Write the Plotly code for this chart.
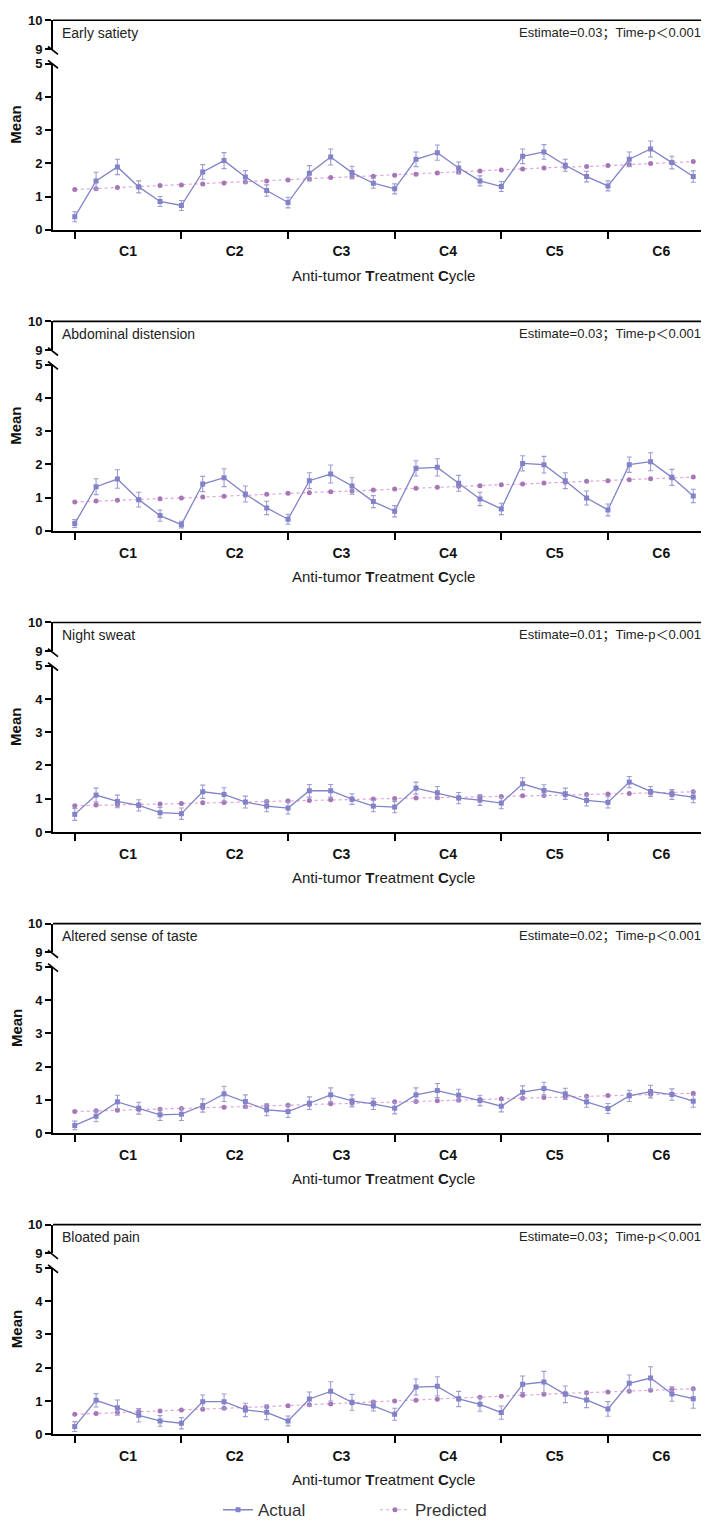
import plotly.graph_objects as go

W, H = 709, 1528

symptoms = ["Early satiety", "Abdominal distension", "Night sweat",
            "Altered sense of taste", "Bloated pain"]
estimates = ["Estimate=0.03；Time-p＜0.001", "Estimate=0.03；Time-p＜0.001",
             "Estimate=0.01；Time-p＜0.001", "Estimate=0.02；Time-p＜0.001",
             "Estimate=0.03；Time-p＜0.001"]
cycle_labels = ["C1", "C2", "C3", "C4", "C5", "C6"]
time_points = list(range(30))  # 5 assessments per cycle x 6 cycles

actual_1 = [0.39, 1.47, 1.89, 1.29, 0.85, 0.73, 1.74, 2.08, 1.59, 1.18, 0.82, 1.70, 2.19, 1.72, 1.40,
            1.23, 2.12, 2.32, 1.86, 1.47, 1.30, 2.21, 2.34, 1.94, 1.60, 1.32, 2.12, 2.43, 2.02, 1.60]
error_1 = [0.15, 0.26, 0.23, 0.18, 0.15, 0.15, 0.22, 0.24, 0.19, 0.17, 0.16, 0.23, 0.24, 0.19, 0.15,
           0.15, 0.22, 0.23, 0.18, 0.15, 0.15, 0.22, 0.22, 0.18, 0.16, 0.15, 0.22, 0.24, 0.19, 0.17]
pred_1 = [1.21, 1.23, 1.27, 1.30, 1.33, 1.35, 1.38, 1.41, 1.44, 1.47, 1.50, 1.53, 1.57, 1.60, 1.61,
          1.64, 1.67, 1.71, 1.74, 1.77, 1.80, 1.83, 1.86, 1.89, 1.90, 1.93, 1.96, 1.99, 2.02, 2.05]

actual_2 = [0.22, 1.33, 1.56, 0.94, 0.46, 0.19, 1.41, 1.60, 1.11, 0.69, 0.35, 1.51, 1.71, 1.35, 0.88,
            0.59, 1.88, 1.91, 1.43, 0.96, 0.66, 2.03, 1.99, 1.51, 0.99, 0.63, 1.99, 2.08, 1.61, 1.05]
error_2 = [0.12, 0.24, 0.28, 0.22, 0.17, 0.10, 0.23, 0.27, 0.24, 0.20, 0.15, 0.24, 0.27, 0.25, 0.18,
           0.17, 0.23, 0.26, 0.24, 0.20, 0.17, 0.23, 0.25, 0.24, 0.21, 0.18, 0.23, 0.27, 0.24, 0.20]
pred_2 = [0.87, 0.90, 0.92, 0.94, 0.97, 0.99, 1.02, 1.04, 1.07, 1.10, 1.13, 1.15, 1.18, 1.20, 1.23,
          1.26, 1.28, 1.31, 1.34, 1.36, 1.39, 1.41, 1.44, 1.46, 1.49, 1.51, 1.54, 1.57, 1.59, 1.62]

actual_3 = [0.53, 1.11, 0.92, 0.80, 0.58, 0.55, 1.21, 1.13, 0.90, 0.78, 0.72, 1.24, 1.24, 0.99, 0.78,
            0.75, 1.32, 1.18, 1.02, 0.96, 0.87, 1.45, 1.25, 1.15, 0.95, 0.89, 1.50, 1.22, 1.13, 1.05]
error_3 = [0.18, 0.21, 0.19, 0.17, 0.16, 0.17, 0.20, 0.20, 0.18, 0.17, 0.18, 0.19, 0.19, 0.16, 0.17,
           0.17, 0.18, 0.19, 0.17, 0.16, 0.17, 0.18, 0.17, 0.17, 0.17, 0.17, 0.17, 0.15, 0.15, 0.17]
pred_3 = [0.79, 0.81, 0.82, 0.83, 0.84, 0.86, 0.88, 0.89, 0.90, 0.92, 0.93, 0.95, 0.97, 0.98, 0.99,
          1.01, 1.02, 1.03, 1.04, 1.06, 1.07, 1.09, 1.10, 1.11, 1.13, 1.14, 1.16, 1.17, 1.19, 1.21]

actual_4 = [0.23, 0.51, 0.94, 0.75, 0.55, 0.57, 0.83, 1.18, 0.95, 0.70, 0.65, 0.90, 1.15, 0.97, 0.88,
            0.75, 1.15, 1.28, 1.14, 0.98, 0.81, 1.23, 1.34, 1.18, 0.94, 0.74, 1.12, 1.25, 1.16, 0.96]
error_4 = [0.13, 0.17, 0.20, 0.18, 0.17, 0.19, 0.20, 0.23, 0.20, 0.18, 0.18, 0.19, 0.21, 0.18, 0.17,
           0.17, 0.21, 0.21, 0.18, 0.16, 0.17, 0.19, 0.19, 0.17, 0.16, 0.15, 0.17, 0.19, 0.17, 0.18]
pred_4 = [0.65, 0.67, 0.69, 0.71, 0.72, 0.74, 0.76, 0.78, 0.80, 0.82, 0.84, 0.86, 0.88, 0.90, 0.92,
          0.94, 0.95, 0.97, 0.99, 1.01, 1.03, 1.05, 1.07, 1.09, 1.11, 1.13, 1.15, 1.17, 1.18, 1.20]

actual_5 = [0.23, 1.02, 0.80, 0.57, 0.40, 0.33, 0.98, 0.98, 0.73, 0.66, 0.40, 1.06, 1.29, 0.96, 0.85,
            0.60, 1.42, 1.44, 1.06, 0.90, 0.65, 1.50, 1.57, 1.20, 1.03, 0.76, 1.53, 1.69, 1.21, 1.07]
error_5 = [0.15, 0.20, 0.23, 0.20, 0.16, 0.17, 0.20, 0.23, 0.20, 0.22, 0.15, 0.21, 0.29, 0.24, 0.15,
           0.18, 0.24, 0.29, 0.23, 0.21, 0.20, 0.25, 0.32, 0.25, 0.23, 0.22, 0.25, 0.34, 0.22, 0.29]
pred_5 = [0.60, 0.62, 0.65, 0.68, 0.70, 0.73, 0.75, 0.78, 0.81, 0.83, 0.86, 0.89, 0.91, 0.94, 0.97,
          1.00, 1.02, 1.05, 1.08, 1.11, 1.14, 1.17, 1.20, 1.23, 1.25, 1.27, 1.29, 1.32, 1.35, 1.37]

actual_all = [actual_1, actual_2, actual_3, actual_4, actual_5]
error_all = [error_1, error_2, error_3, error_4, error_5]
pred_all = [pred_1, pred_2, pred_3, pred_4, pred_5]

# ---------------- styling / layout geometry (pixels) ----------------
FONT = "Liberation Sans, Arial, Noto Sans CJK SC, sans-serif"
C_ACT = "#8282c8"
C_ACT_ERR = "#9c9cd4"
C_PRED = "#a676b6"
C_PRED_LINE = "#dca6d8"

X0, X1 = 45, 707
PITCH = 304.1
TOP0 = 5.3


def py(p):
    return 1 - p / H


def px(p):
    return p / W


fig = go.Figure()
shapes = []
annotations = []
layout = {}

for k in range(5):
    T = TOP0 + PITCH * k
    xi = k + 1
    yl = 2 * k + 1
    yu = 2 * k + 2
    xname = "x" if xi == 1 else f"x{xi}"
    ylname = "y" if yl == 1 else f"y{yl}"
    yuname = f"y{yu}"

    fig.add_trace(go.Scatter(
        x=time_points, y=pred_all[k], mode="lines+markers", name="Predicted",
        legendgroup="pred", showlegend=(k == 0),
        line=dict(color=C_PRED_LINE, width=1.2, dash="dot"),
        marker=dict(color=C_PRED, size=5),
        xaxis=xname, yaxis=ylname))
    fig.add_trace(go.Scatter(
        x=time_points, y=actual_all[k], mode="lines+markers", name="Actual",
        legendgroup="act", showlegend=(k == 0),
        line=dict(color=C_ACT, width=1.3),
        marker=dict(color=C_ACT, size=5, symbol="square"),
        error_y=dict(type="data", array=error_all[k], visible=True,
                     color=C_ACT_ERR, thickness=1.1, width=2.5),
        xaxis=xname, yaxis=ylname))
    fig.add_trace(go.Scatter(x=[], y=[], showlegend=False, hoverinfo="skip",
                             xaxis=xname, yaxis=yuname))

    axkey = "xaxis" if xi == 1 else f"xaxis{xi}"
    layout[axkey] = dict(
        domain=[px(X0), px(X1)], anchor=ylname, range=[-1.02, 30.02],
        showgrid=False, zeroline=False, showline=True, linecolor="black", linewidth=1.7,
        tickmode="array", tickvals=[2.5, 7.5, 12.5, 17.5, 22.5, 27.5], ticktext=cycle_labels,
        ticks="", ticklabelstandoff=8,
        tickfont=dict(family=FONT, size=14, color="#111111", weight="bold"),
        minor=dict(tickmode="array", tickvals=[0, 5, 10, 15, 20, 25, 30], ticks="outside",
                   ticklen=7, tickwidth=1.7, tickcolor="black", showgrid=False),
    )
    ylkey = "yaxis" if yl == 1 else f"yaxis{yl}"
    layout[ylkey] = dict(
        domain=[py(T + 211.6), py(T + 43.7)], anchor=xname, range=[0, 5],
        tickvals=[0, 1, 2, 3, 4, 5], showgrid=False, zeroline=False,
        showline=True, linecolor="black", linewidth=1.7,
        ticks="outside", ticklen=6, tickwidth=1.7, tickcolor="black",
        tickfont=dict(family=FONT, size=13, color="#111111", weight="bold"),
    )
    layout[f"yaxis{yu}"] = dict(
        domain=[py(T + 29), py(T)], anchor=xname, range=[9, 10],
        tickvals=[9, 10], showgrid=False, zeroline=False,
        showline=True, linecolor="black", linewidth=1.7,
        ticks="outside", ticklen=6, tickwidth=1.7, tickcolor="black",
        tickfont=dict(family=FONT, size=13, color="#111111", weight="bold"),
    )

    # frame: top and right borders
    shapes.append(dict(type="line", xref="paper", yref="paper",
                       x0=px(X0), x1=px(X1), y0=py(T), y1=py(T),
                       line=dict(color="black", width=1.7)))
    shapes.append(dict(type="line", xref="paper", yref="paper",
                       x0=px(X1), x1=px(X1), y0=py(T), y1=py(T + 218.6),
                       line=dict(color="black", width=1.7)))
    # axis break marks
    for c in (T + 30.5, T + 44.5):
        shapes.append(dict(type="line", xref="paper", yref="paper",
                           x0=px(X0 - 5), x1=px(X0 + 5), y0=py(c - 4), y1=py(c + 4),
                           line=dict(color="black", width=1.7)))

    annotations.append(dict(text=symptoms[k], xref="paper", yref="paper",
                            x=px(52), y=py(T + 12.5), xanchor="left", yanchor="middle",
                            showarrow=False, font=dict(family=FONT, size=14, color="#222222")))
    annotations.append(dict(text=estimates[k], xref="paper", yref="paper",
                            x=px(695), y=py(T + 12.5), xanchor="right", yanchor="middle",
                            showarrow=False, font=dict(family=FONT, size=13, color="#222222")))
    annotations.append(dict(text="<b>Mean</b>", xref="paper", yref="paper",
                            x=px(8), y=py(T + 105.5), xanchor="center", yanchor="middle",
                            textangle=-90, showarrow=False,
                            font=dict(family=FONT, size=15, color="#111111")))
    annotations.append(dict(text="Anti-tumor <b>T</b>reatment <b>C</b>ycle", xref="paper", yref="paper",
                            x=px(376), y=py(T + 257.7), xanchor="center", yanchor="middle",
                            showarrow=False, font=dict(family=FONT, size=15, color="#1a1a1a")))

fig.update_layout(
    width=W, height=H,
    margin=dict(l=0, r=0, t=0, b=0),
    paper_bgcolor="white", plot_bgcolor="white",
    font=dict(family=FONT, color="#222222"),
    shapes=shapes, annotations=annotations,
    showlegend=True,
    legend=dict(orientation="h", x=px(210), y=py(1510), xanchor="left", yanchor="middle",
                font=dict(family=FONT, size=17, color="#333333"),
                traceorder="reversed", entrywidth=112, entrywidthmode="pixels",
                itemwidth=30, bgcolor="rgba(0,0,0,0)"),
    **layout,
)

fig.write_html("out.html")
